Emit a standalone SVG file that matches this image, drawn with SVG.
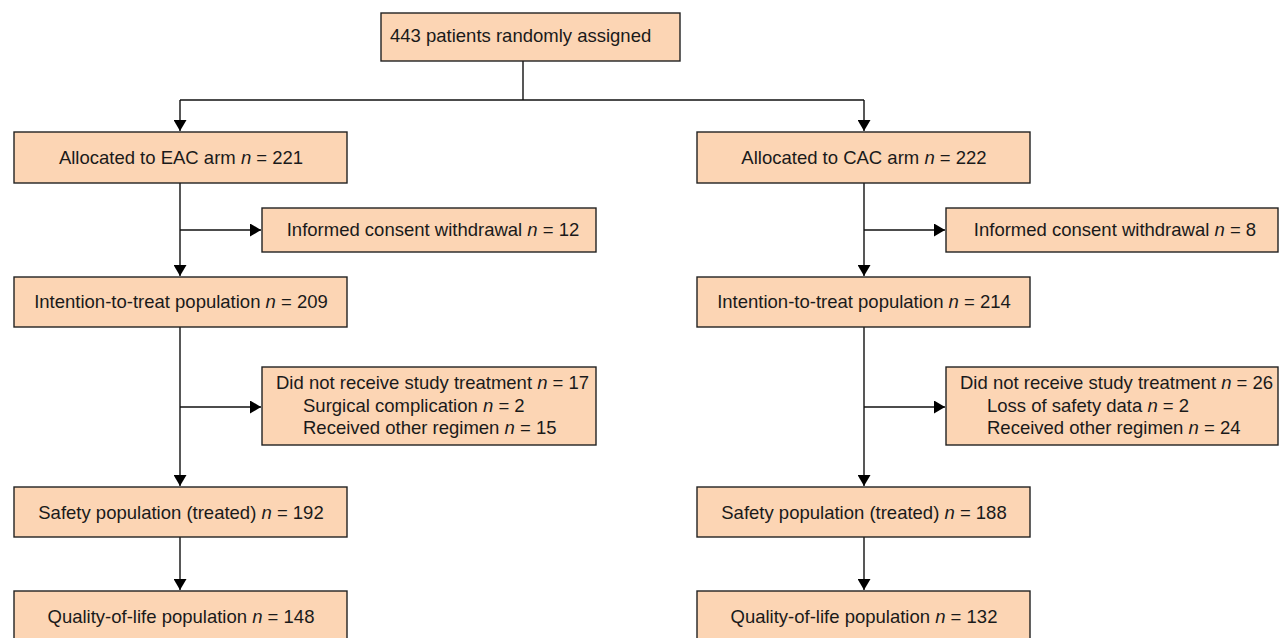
<svg xmlns="http://www.w3.org/2000/svg" width="1279" height="638" viewBox="0 0 1279 638">
<style>
.box{fill:#FCD5B4;stroke:#222;stroke-width:1.4}
.t{font-family:"Liberation Sans",Arial,sans-serif;font-size:18.5px;fill:#1a1a1a}
.c{text-anchor:middle}
.ln{fill:none;stroke:#111;stroke-width:1.4}
</style>
<defs>
<marker id="ah" markerWidth="12" markerHeight="13" refX="11" refY="6.5" orient="auto" markerUnits="userSpaceOnUse">
<path d="M0,0 L11,6.5 L0,13 Z" fill="#000"/>
</marker>
</defs>
<rect width="1279" height="638" fill="#fff"/>
<g id="connectors">
<path class="ln" d="M523,61 V100"/>
<path class="ln" d="M180,100 H864"/>
<path class="ln" d="M180,100 V131" marker-end="url(#ah)"/>
<path class="ln" d="M864,100 V131" marker-end="url(#ah)"/>
<path class="ln" d="M180,183 V276" marker-end="url(#ah)"/>
<path class="ln" d="M180,230 H261" marker-end="url(#ah)"/>
<path class="ln" d="M864,183 V276" marker-end="url(#ah)"/>
<path class="ln" d="M864,230 H945" marker-end="url(#ah)"/>
<path class="ln" d="M180,327 V486" marker-end="url(#ah)"/>
<path class="ln" d="M180,407 H261" marker-end="url(#ah)"/>
<path class="ln" d="M864,327 V486" marker-end="url(#ah)"/>
<path class="ln" d="M864,407 H945" marker-end="url(#ah)"/>
<path class="ln" d="M180,537 V590" marker-end="url(#ah)"/>
<path class="ln" d="M864,537 V590" marker-end="url(#ah)"/>
</g>
<g id="randomised">
<rect class="box" x="381" y="13" width="299" height="48"/>
<text class="t" x="390" y="41.5">443 patients randomly assigned</text>
</g>
<g id="eac-arm">
<rect class="box" x="14" y="132" width="333" height="51"/>
<text class="t c" x="181" y="164">Allocated to EAC arm <tspan font-style="italic">n</tspan> = 221</text>
</g>
<g id="cac-arm">
<rect class="box" x="697" y="132" width="333" height="51"/>
<text class="t c" x="864" y="164">Allocated to CAC arm <tspan font-style="italic">n</tspan> = 222</text>
</g>
<g id="eac-consent">
<rect class="box" x="262" y="208" width="334" height="44"/>
<text class="t c" x="433" y="236">Informed consent withdrawal <tspan font-style="italic">n</tspan> = 12</text>
</g>
<g id="cac-consent">
<rect class="box" x="946" y="208" width="332" height="44"/>
<text class="t c" x="1115" y="236">Informed consent withdrawal <tspan font-style="italic">n</tspan> = 8</text>
</g>
<g id="eac-itt">
<rect class="box" x="14" y="277" width="333" height="50"/>
<text class="t c" x="181" y="308">Intention-to-treat population <tspan font-style="italic">n</tspan> = 209</text>
</g>
<g id="cac-itt">
<rect class="box" x="697" y="277" width="333" height="50"/>
<text class="t c" x="864" y="308">Intention-to-treat population <tspan font-style="italic">n</tspan> = 214</text>
</g>
<g id="eac-notreat">
<rect class="box" x="262" y="367" width="334" height="78"/>
<text class="t" x="276" y="389">Did not receive study treatment <tspan font-style="italic">n</tspan> = 17</text>
<text class="t" x="303" y="411.5">Surgical complication <tspan font-style="italic">n</tspan> = 2</text>
<text class="t" x="303" y="434">Received other regimen <tspan font-style="italic">n</tspan> = 15</text>
</g>
<g id="cac-notreat">
<rect class="box" x="946" y="367" width="332" height="78"/>
<text class="t" x="960" y="389">Did not receive study treatment <tspan font-style="italic">n</tspan> = 26</text>
<text class="t" x="987" y="411.5">Loss of safety data <tspan font-style="italic">n</tspan> = 2</text>
<text class="t" x="987" y="434">Received other regimen <tspan font-style="italic">n</tspan> = 24</text>
</g>
<g id="eac-safety">
<rect class="box" x="14" y="487" width="333" height="50"/>
<text class="t c" x="181" y="518.5">Safety population (treated) <tspan font-style="italic">n</tspan> = 192</text>
</g>
<g id="cac-safety">
<rect class="box" x="697" y="487" width="333" height="50"/>
<text class="t c" x="864" y="518.5">Safety population (treated) <tspan font-style="italic">n</tspan> = 188</text>
</g>
<g id="eac-qol">
<rect class="box" x="14" y="591" width="333" height="51"/>
<text class="t c" x="181" y="623">Quality-of-life population <tspan font-style="italic">n</tspan> = 148</text>
</g>
<g id="cac-qol">
<rect class="box" x="697" y="591" width="333" height="51"/>
<text class="t c" x="864" y="623">Quality-of-life population <tspan font-style="italic">n</tspan> = 132</text>
</g>
</svg>
